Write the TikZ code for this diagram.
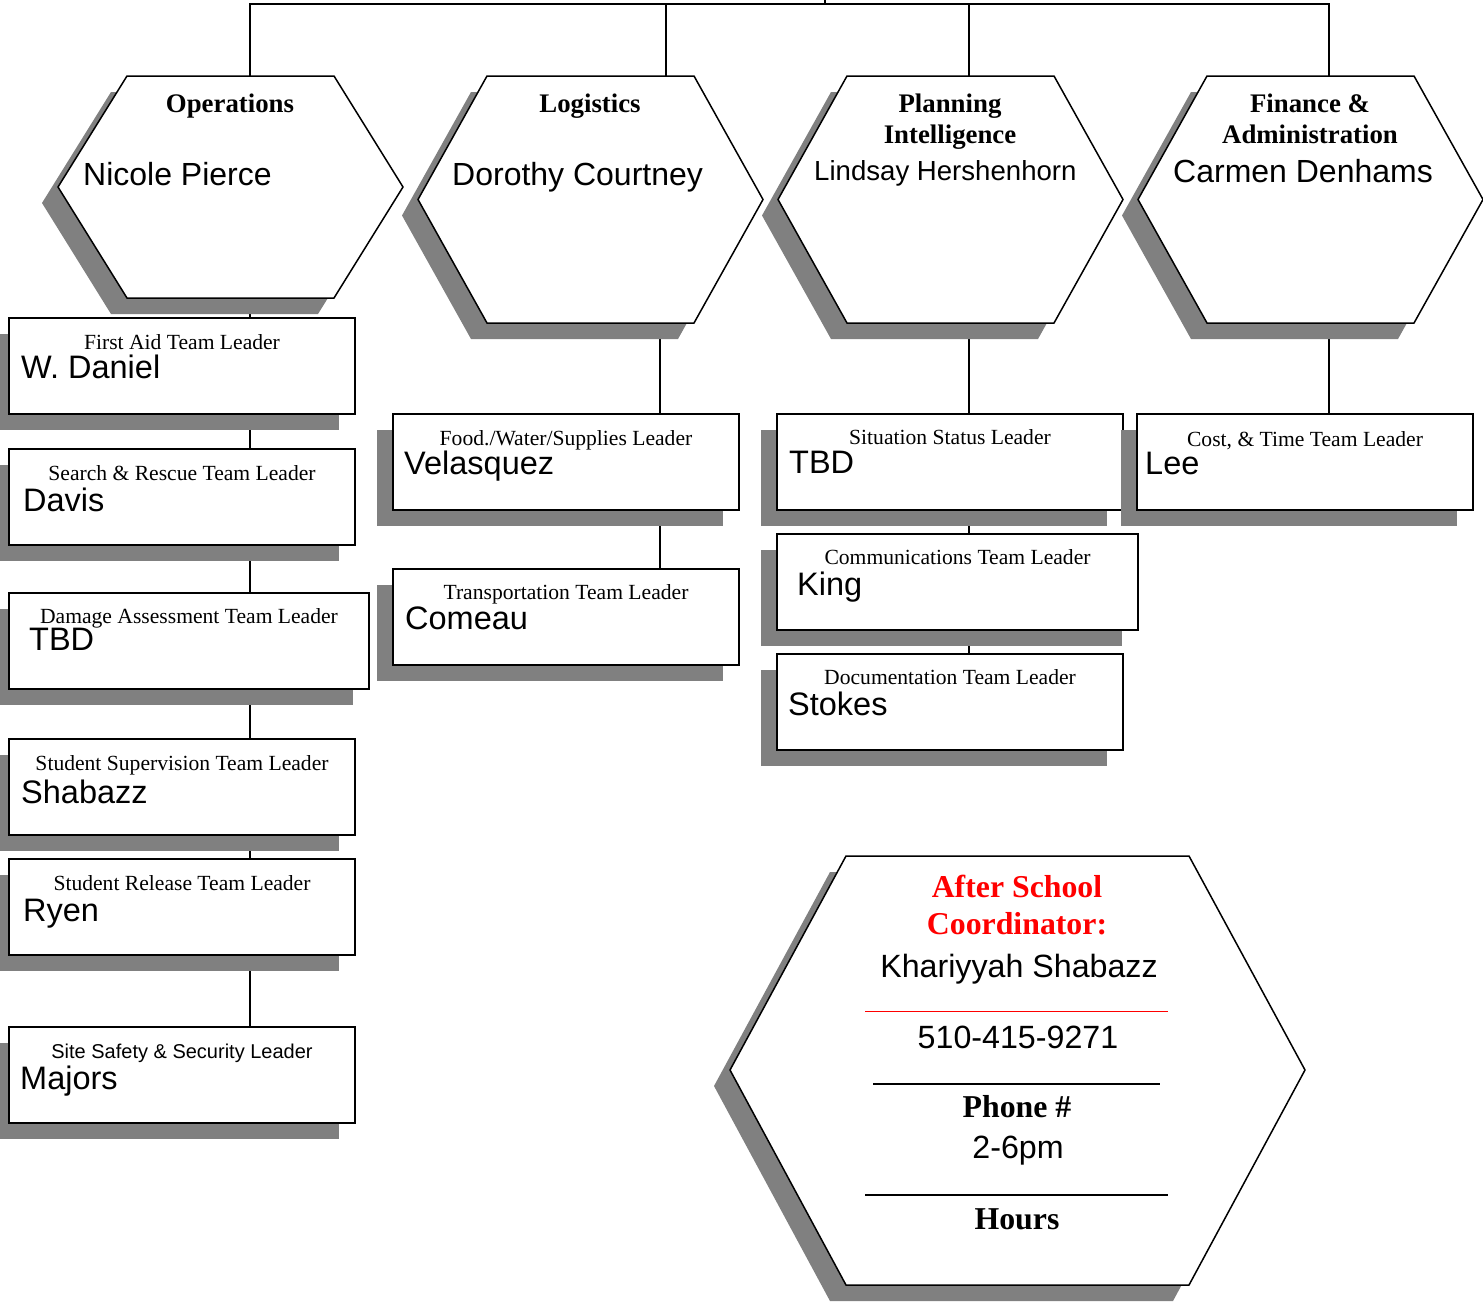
\documentclass[tikz,border=0pt]{standalone}
\usepackage{fontspec}
\setmainfont{Liberation Serif}
\newfontfamily\arialfont{Liberation Sans}
\usetikzlibrary{shadows,backgrounds}
\definecolor{shadowgray}{RGB}{128,128,128}
\definecolor{titlered}{RGB}{255,0,0}

\begin{document}
\begin{tikzpicture}[x=1pt,y=-1pt,
    link/.style={line width=1.5pt},
    offshadow/.style={drop shadow={shadow xshift=-16pt,shadow yshift=-16pt,fill=shadowgray,opacity=1}},
    hexline/.style={draw,line width=1.5pt,fill=white,offshadow},
    leaderbox/.style={draw,line width=1.6pt,fill=white,inner sep=0pt,outer sep=0pt,anchor=north west,minimum height=96pt,offshadow},
    role/.style={font=\fontsize{21.6}{25}\selectfont,anchor=base,inner sep=0pt},
    who/.style={font=\arialfont\fontsize{32.5}{36}\selectfont,anchor=base west,inner sep=0pt},
    sectionhead/.style={font=\bfseries\fontsize{26.8}{31}\selectfont,anchor=base,inner sep=0pt},
    chiefname/.style={font=\arialfont\fontsize{32}{36}\selectfont,anchor=base west,inner sep=0pt},
    ascbold/.style={font=\bfseries\fontsize{31.8}{36}\selectfont,anchor=base,inner sep=0pt},
    ascinfo/.style={font=\arialfont\fontsize{32.2}{36}\selectfont,anchor=base,inner sep=0pt}]

    \useasboundingbox (0,0) rectangle (1483,1302);

    % Section hexagons
    \foreach \name/\x/\b/\c/\d in {ops/58/298/250/250, log/418/323/666/660, plan/778/323/969/969, fin/1138/323/1329/1329} {
        \path[hexline] ({\x+69},76) -- ({\x+276},76) -- ({\x+345},{(76+\b)/2})
            -- ({\x+276},\b) -- ({\x+69},\b) -- (\x,{(76+\b)/2}) -- cycle;
        \coordinate (\name-n) at (\c,76);
        \coordinate (\name-s) at (\d,\b);
    }

    \node[sectionhead] (ops-head) at (230,112) {Operations};
    \node[chiefname] (ops-chief) at (83,185) {Nicole Pierce};
    \node[sectionhead] (log-head) at (590,112) {Logistics};
    \node[chiefname] (log-chief) at (452,185) {Dorothy Courtney};
    \node[sectionhead] (plan-head) at (950,112) {Planning};
    \node[sectionhead] (plan-head2) at (950,143) {Intelligence};
    \node[chiefname, font=\arialfont\fontsize{27.6}{32}\selectfont] (plan-chief) at (814,180) {Lindsay Hershenhorn};
    \node[sectionhead] (fin-head) at (1310,112) {Finance \&};
    \node[sectionhead] (fin-head2) at (1310,143) {Administration};
    \node[chiefname] (fin-chief) at (1173,182) {Carmen Denhams};

    % Operations teams
    \node[leaderbox, minimum width=346pt] (fa) at (9,318) {};
    \node[role] (fa-role) at ([yshift=-31pt]fa.north) {First Aid Team Leader};
    \node[who] (fa-who) at ([xshift=12pt,yshift=-60pt]fa.north west) {W. Daniel};

    \node[leaderbox, minimum width=346pt] (sr) at (9,449) {};
    \node[role] (sr-role) at ([yshift=-31pt]sr.north) {Search \& Rescue Team Leader};
    \node[who] (sr-who) at ([xshift=14pt,yshift=-62pt]sr.north west) {Davis};

    \node[leaderbox, minimum width=360pt] (da) at (9,593) {};
    \node[role] (da-role) at ([yshift=-30pt]da.north) {Damage Assessment Team Leader};
    \node[who] (da-who) at ([xshift=20pt,yshift=-57pt]da.north west) {TBD};

    \node[leaderbox, minimum width=346pt] (ss) at (9,739) {};
    \node[role] (ss-role) at ([yshift=-31pt]ss.north) {Student Supervision Team Leader};
    \node[who] (ss-who) at ([xshift=12pt,yshift=-64pt]ss.north west) {Shabazz};

    \node[leaderbox, minimum width=346pt] (rel) at (9,859) {};
    \node[role] (rel-role) at ([yshift=-31pt]rel.north) {Student Release Team Leader};
    \node[who] (rel-who) at ([xshift=14pt,yshift=-62pt]rel.north west) {Ryen};

    \node[leaderbox, minimum width=346pt] (saf) at (9,1027) {};
    \node[role, font=\arialfont\fontsize{20}{24}\selectfont] (saf-role) at ([yshift=-31pt]saf.north) {Site Safety \& Security Leader};
    \node[who] (saf-who) at ([xshift=11pt,yshift=-62pt]saf.north west) {Majors};

    % Logistics teams
    \node[leaderbox, minimum width=346pt] (vel) at (393,414) {};
    \node[role] (vel-role) at ([yshift=-31pt]vel.north) {Food./Water/Supplies Leader};
    \node[who] (vel-who) at ([xshift=11pt,yshift=-60pt]vel.north west) {Velasquez};

    \node[leaderbox, minimum width=346pt] (com) at (393,569) {};
    \node[role] (com-role) at ([yshift=-30pt]com.north) {Transportation Team Leader};
    \node[who] (com-who) at ([xshift=12pt,yshift=-60pt]com.north west) {Comeau};

    % Planning teams
    \node[leaderbox, minimum width=346pt] (sit) at (777,414) {};
    \node[role] (sit-role) at ([yshift=-30pt]sit.north) {Situation Status Leader};
    \node[who] (sit-who) at ([xshift=12pt,yshift=-59pt]sit.north west) {TBD};

    \node[leaderbox, minimum width=361pt] (comm) at (777,534) {};
    \node[role] (comm-role) at ([yshift=-30pt]comm.north) {Communications Team Leader};
    \node[who] (comm-who) at ([xshift=20pt,yshift=-61pt]comm.north west) {King};

    \node[leaderbox, minimum width=346pt] (doc) at (777,654) {};
    \node[role] (doc-role) at ([yshift=-30pt]doc.north) {Documentation Team Leader};
    \node[who] (doc-who) at ([xshift=11pt,yshift=-61pt]doc.north west) {Stokes};

    % Finance team
    \node[leaderbox, minimum width=336pt] (cost) at (1137,414) {};
    \node[role] (cost-role) at ([yshift=-32pt]cost.north) {Cost, \& Time Team Leader};
    \node[who] (cost-who) at ([xshift=8pt,yshift=-60pt]cost.north west) {Lee};

    % After school coordinator
    \path[hexline] (846,856) -- (1189,856) -- (1305,1070) -- (1189,1285) -- (846,1285) -- (730,1070) -- cycle;
    \node[ascbold, text=titlered] (asc-a) at (1017,897) {After School};
    \node[ascbold, text=titlered] (asc-b) at (1017,934) {Coordinator:};
    \node[ascinfo] (asc-name) at (1019,977) {Khariyyah Shabazz};
    \draw[titlered, line width=0.8pt] (865,1011) -- (1168,1011);
    \node[ascinfo] (asc-phone) at (1018,1048) {510-415-9271};
    \draw[line width=1.3pt] (873,1084) -- (1160,1084);
    \node[ascbold] (asc-phonelbl) at (1017,1117) {Phone \#};
    \node[ascinfo] (asc-hours) at (1018,1158) {2-6pm};
    \draw[line width=1.3pt] (865,1195) -- (1168,1195);
    \node[ascbold] (asc-hourslbl) at (1017,1229) {Hours};

    % Connectors, behind the shapes
    \begin{scope}[on background layer]
        \fill[white] (0,0) rectangle (1483,1302);
        \coordinate (bar) at (825,4);
        \coordinate (up) at (825,-5);
        \draw[link] (ops-n) |- (bar) -| (fin-n);
        \draw[link] (bar) -- (up);
        \draw[link] (log-n) -- (log-n |- bar);
        \draw[link] (plan-n) -- (plan-n |- bar);
        \draw[link] (ops-s) -- (ops-s |- saf.north);
        \draw[link] (log-s) -- (log-s |- com.north);
        \draw[link] (plan-s) -- (plan-s |- doc.north);
        \draw[link] (fin-s) -- (fin-s |- cost.north);
    \end{scope}
\end{tikzpicture}
\end{document}
